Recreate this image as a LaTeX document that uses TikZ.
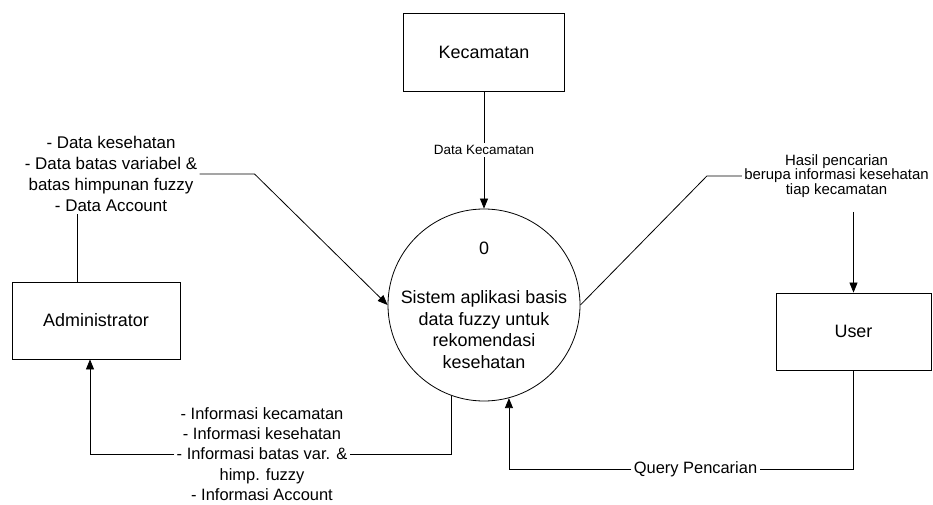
\documentclass[tikz,border=0pt]{standalone}
\usepackage{fontspec}
\setmainfont{Liberation Sans}
\usetikzlibrary{arrows.meta}
\begin{document}
\begin{tikzpicture}[x=1bp,y=-1bp,
  every path/.style={line width=0.8bp},
  entity/.style={draw, rectangle, inner sep=0pt, font=\fontsize{18}{21.5}\selectfont},
  process/.style={draw, circle, inner sep=0pt, minimum size=192bp},
  flow/.style={-{Triangle[length=10bp,width=8bp]}},
  flowlabel/.style={align=center, inner sep=2bp},
]
\useasboundingbox (0,0) rectangle (933,505);

% external entities
\node[entity, minimum width=161bp, minimum height=78bp] (kec) at (484,52) {Kecamatan};
\node[entity, minimum width=168bp, minimum height=77bp] (adm) at (96,320.5) {Administrator};
\node[entity, minimum width=155bp, minimum height=77bp] (user) at (853.5,331.5) {User};

% process 0
\node[process] (proc) at (484,305) {};
\node[align=center, font=\fontsize{18}{21.5}\selectfont] (proctext) at (proc.center)
  {0\\[28bp]Sistem aplikasi basis\\data fuzzy untuk\\rekomendasi\\kesehatan};

% flow labels
\node[flowlabel, font=\fontsize{13.5}{15}\selectfont] (dk) at (484,150) {Data Kecamatan};
\node[flowlabel, font=\fontsize{17}{21}\selectfont] (adminfo) at (111,174)
  {- Data kesehatan\\- Data batas variabel \&\\batas himpunan fuzzy\\- Data Account};
\node[flowlabel, font=\fontsize{16.5}{20.5}\selectfont] (botinfo) at (262,454)
  {- Informasi kecamatan\\- Informasi kesehatan\\- Informasi batas var. \&\\himp. fuzzy\\- Informasi Account};
\node[flowlabel, font=\fontsize{16.5}{20}\selectfont] (query) at (695.5,469) {Query Pencarian};
\node[flowlabel, font=\fontsize{15}{14.5}\selectfont] (hasil) at (836.5,176)
  {Hasil pencarian\\berupa informasi kesehatan\\tiap kecamatan};

% data flows
\draw (kec.south) -- (dk.north);
\draw[flow] (dk.south) -- (proc.north);

\draw ([xshift=-19bp]adm.north) -- ([xshift=-19bp]adm.north |- adminfo.south);
\draw[flow] (adminfo.east) -- ++(55,0) -- (proc.west);

\draw (proc.250) |- (botinfo.east);
\draw[flow] (botinfo.west) -| ([xshift=-6bp]adm.south);

\draw (user.south) |- (query.east);
\draw[flow] (query.west) -| (proc.285);

\draw (proc.east) -- ([xshift=-35bp]hasil.west) -- (hasil.west);
\draw[flow] ([yshift=-12bp]user.north |- hasil.south) -- (user.north);
\end{tikzpicture}
\end{document}
